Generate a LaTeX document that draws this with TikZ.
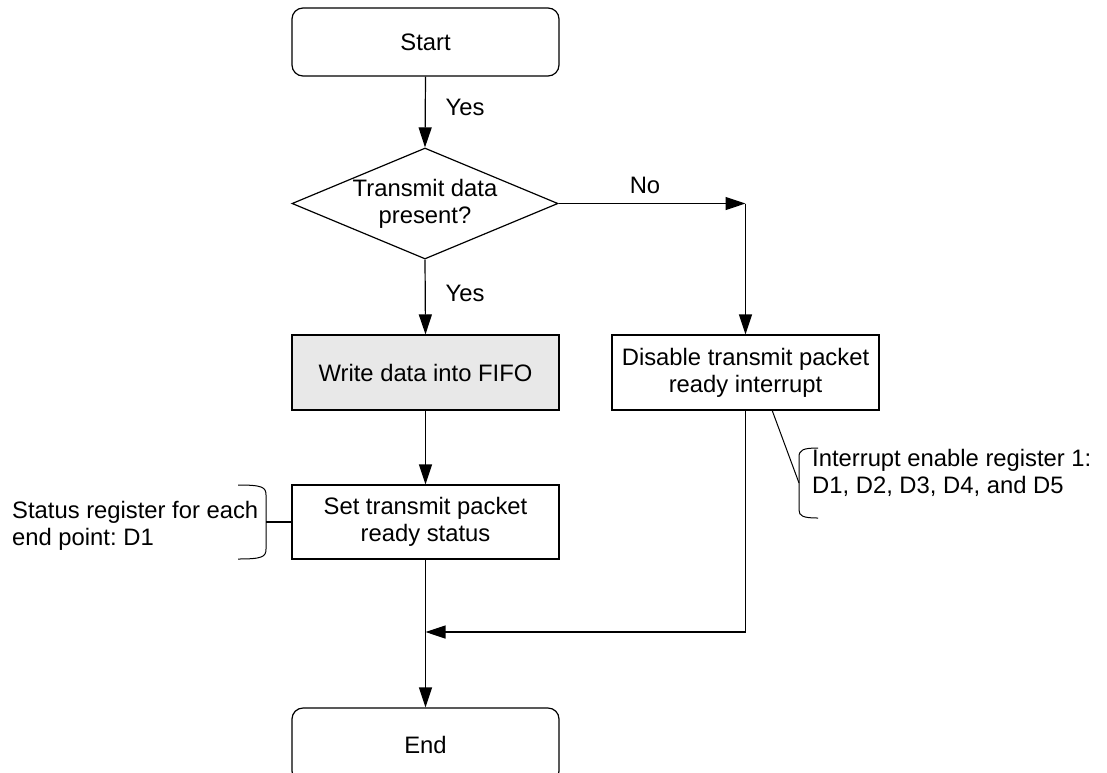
\documentclass[tikz,border=0pt]{standalone}
\usepackage{fontspec}
\setmainfont{Liberation Sans}
\usetikzlibrary{shapes.geometric,arrows.meta}
\frenchspacing
\begin{document}
\begin{tikzpicture}[x=1pt,y=-1pt,
  every node/.style={font=\fontsize{23.8}{27}\selectfont, align=center},
  line/.style={line width=1.2pt, draw=black},
  arrow/.style={line, -{Triangle[length=20pt,width=13pt]}},
  terminal/.style={draw, line width=1.2pt, rounded corners=11pt, minimum width=267pt, inner sep=0pt},
  process/.style={draw, line width=1.2pt, minimum width=267pt, inner sep=0pt},
  decision/.style={draw, line width=1.2pt, diamond, aspect=2.4, minimum width=266pt, minimum height=111pt, inner sep=0pt},
  label/.style={inner sep=0pt}
]
\useasboundingbox (0,0) rectangle (1107,772);
\clip (0,0) rectangle (1107,772);

% flow boxes
\node[terminal, minimum height=68pt] (start) at (425.5,42) {Start};
\node[decision] (dec) at (425,203.5) {Transmit data\\present?};
\node[process, minimum height=75pt, fill={rgb,255:red,232;green,232;blue,232}] (write) at (425.5,372.5) {Write data into FIFO};
\node[process, minimum height=75pt] (dis) at (745.5,372.5) {Disable transmit packet\\ready interrupt};
\node[process, minimum height=74pt] (set) at (425.5,522) {Set transmit packet\\ready status};
\node[terminal, minimum height=74pt] (end) at (425.5,745) {End};

% branch labels
\node[label] (yes1) at (465,107) {Yes};
\node[label] (yes2) at (465,293) {Yes};
\node[label] (no) at (645,185) {No};

% connectors
\coordinate (nocorner) at (dec.east -| dis.north);
\coordinate (join) at (425.5,632);
\draw[arrow] (start.south) -- (dec.north);
\draw[arrow] (dec.south) -- (write.north);
\draw[arrow] (dec.east) -- (nocorner);
\draw[arrow] (nocorner) -- (dis.north);
\draw[arrow] (write.south) -- (set.north);
\draw[arrow] (dis.south) |- (join);
\draw[arrow] (set.south) -- (end.north);

% annotation: status register
\node[label, align=left, anchor=west] (stat) at (12,526) {Status register for each\\end point: D1};
\coordinate (lbtop) at (238,485);
\coordinate (lbbot) at (238,559);
\coordinate (lbtip) at (266,522);
\draw[line, line width=1pt] (lbtop) .. controls (262,485) and (266,487) .. (266,495)
  -- (266,549) .. controls (266,557) and (262,559) .. (lbbot);
\draw[line] (lbtip) -- (set.west);

% annotation: interrupt enable register
\node[label, align=left, anchor=west] (irq) at (812,473) {Interrupt enable register 1:\\D1, D2, D3, D4, and D5};
\coordinate (rbtop) at (818,448);
\coordinate (rbbot) at (818,518);
\coordinate (rbtip) at (799,483);
\coordinate (lead) at (772,410);
\draw[line, line width=1pt] (rbtop) .. controls (803,448) and (799,450) .. (799,457)
  -- (799,510) .. controls (799,516) and (803,518) .. (rbbot);
\draw[line, line width=1pt] (lead) -- (rbtip);
\end{tikzpicture}
\end{document}
